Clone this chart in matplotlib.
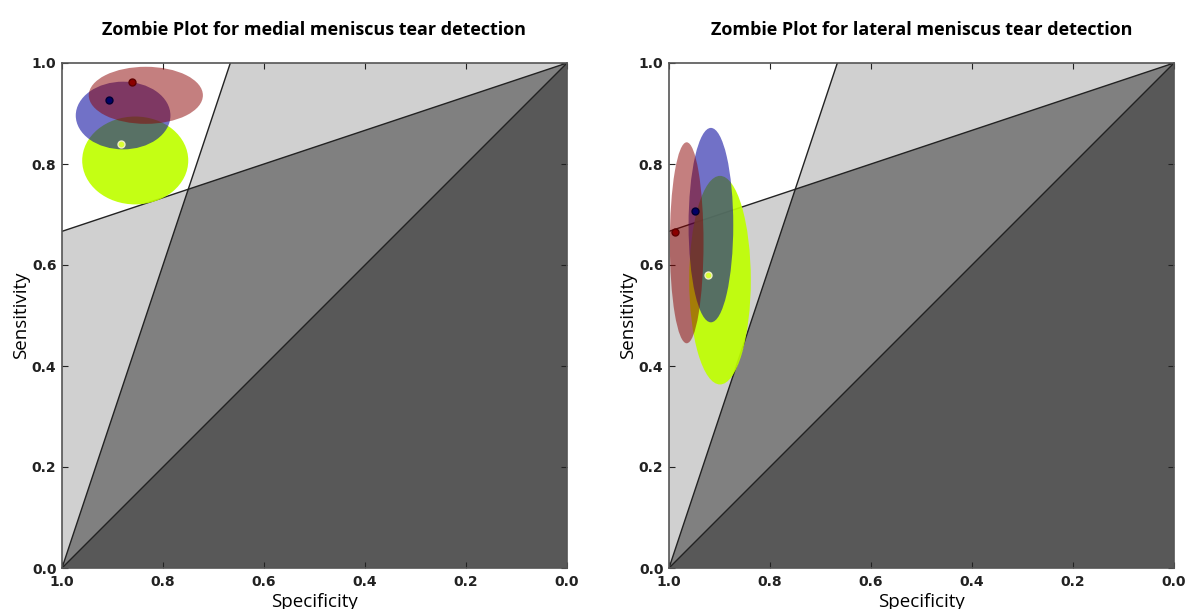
import matplotlib.pyplot as plt
from matplotlib.patches import Ellipse, Polygon

# order of the three readers: green, blue, red
medial_spec = [0.855, 0.879, 0.834]
medial_sens = [0.807, 0.896, 0.936]
medial_w = [0.21, 0.1875, 0.226]
medial_h = [0.174, 0.134, 0.113]
medial_pt_spec = [0.884, 0.907, 0.861]
medial_pt_sens = [0.839, 0.927, 0.962]

lateral_spec = [0.899, 0.917, 0.965]
lateral_sens = [0.570, 0.679, 0.644]
lateral_w = [0.122, 0.0885, 0.0667]
lateral_h = [0.413, 0.385, 0.398]
lateral_pt_spec = [0.922, 0.949, 0.989]
lateral_pt_sens = [0.581, 0.706, 0.665]

fill_colors = ['#bfff00', '#0a0aa0', '#8b0000']
fill_alpha = [0.92, 0.58, 0.5]
dot_colors = ['#d9ff33', '#000066', '#8b0000']
dot_edges = ['#f0f0c0', '#000033', '#600000']

ticks = [1.0, 0.8, 0.6, 0.4, 0.2, 0.0]
lr_pos = 3.0        # steep line
lr_neg = 1.0 / 3.0  # shallow line

titles = ['Zombie Plot for medial meniscus tear detection',
          'Zombie Plot for lateral meniscus tear detection']


def draw_background(ax):
    x_cross = 1 - (1 - lr_neg) / (lr_pos - lr_neg)
    y_cross = lr_pos * (1 - x_cross)
    steep_top = 1 - 1 / lr_pos
    shallow_left = 1 - lr_neg
    ax.add_patch(Polygon([(1, 0), (0, 1), (1, 1)], closed=True,
                         facecolor='#d0d0d0', edgecolor='none'))
    ax.add_patch(Polygon([(1, shallow_left), (x_cross, y_cross), (steep_top, 1), (1, 1)],
                         closed=True, facecolor='white', edgecolor='none'))
    ax.add_patch(Polygon([(1, 0), (x_cross, y_cross), (0, 1)], closed=True,
                         facecolor='#808080', edgecolor='none'))
    ax.add_patch(Polygon([(1, 0), (0, 1), (0, 0)], closed=True,
                         facecolor='#585858', edgecolor='none'))
    ax.plot([1, 0], [0, 1], color='#222222', lw=1)
    ax.plot([1, steep_top], [0, 1], color='#222222', lw=1)
    ax.plot([1, 0], [shallow_left, 1], color='#222222', lw=1)


def draw_panel(ax, title, cs, cy, w, h, ps, py):
    draw_background(ax)
    for i in range(3):
        ax.add_patch(Ellipse((cs[i], cy[i]), w[i], h[i], facecolor=fill_colors[i],
                             alpha=fill_alpha[i], edgecolor='none', zorder=3))
    for i in range(3):
        ax.plot(ps[i], py[i], 'o', ms=5, color=dot_colors[i], mec=dot_edges[i],
                mew=1, zorder=4)
    ax.set_xlim(1, 0)
    ax.set_ylim(0, 1)
    ax.set_xticks(ticks)
    ax.set_yticks(ticks)
    ax.set_xticklabels(['%.1f' % t for t in ticks])
    ax.set_yticklabels(['%.1f' % t for t in ticks])
    ax.tick_params(direction='in', top=True, right=True, length=4, labelsize=10,
                   colors='#222222')
    ax.tick_params(axis='x', pad=5)
    ax.tick_params(axis='y', pad=4)
    for lab in ax.get_xticklabels() + ax.get_yticklabels():
        lab.set_fontweight('bold')
    for sp in ax.spines.values():
        sp.set_color('#555555')
        sp.set_linewidth(1.2)
        sp.set_zorder(5)
    ax.set_xlabel('Specificity', fontsize=13.5, family='Open Sans', labelpad=3)
    ax.set_ylabel('Sensitivity', fontsize=13.5, family='Open Sans', labelpad=1)
    ax.set_title(title, fontsize=13, family='Open Sans', fontweight='bold', pad=20)


fig = plt.figure(figsize=(11.87, 6.09), dpi=100)
ax1 = fig.add_axes([62 / 1187, 41 / 609, 505 / 1187, 505 / 609])
ax2 = fig.add_axes([669 / 1187, 41 / 609, 505 / 1187, 505 / 609])

draw_panel(ax1, titles[0], medial_spec, medial_sens, medial_w, medial_h,
           medial_pt_spec, medial_pt_sens)
draw_panel(ax2, titles[1], lateral_spec, lateral_sens, lateral_w, lateral_h,
           lateral_pt_spec, lateral_pt_sens)

fig.savefig('out.png', dpi=100)
